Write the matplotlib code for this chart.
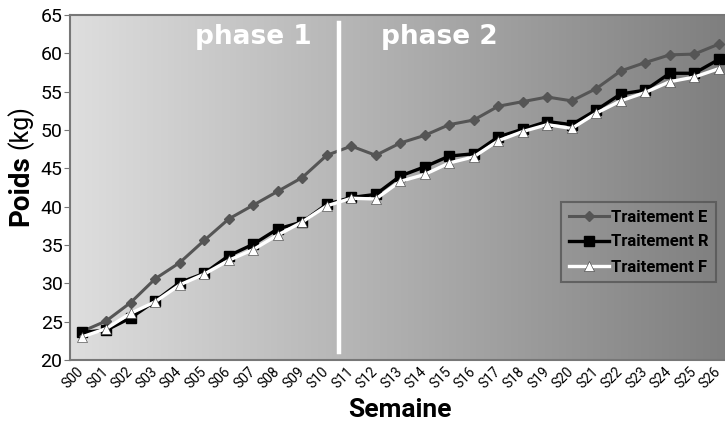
import numpy as np
import matplotlib
matplotlib.use("Agg")
import matplotlib.pyplot as plt
import matplotlib.transforms as mtransforms
from matplotlib.colors import LinearSegmentedColormap

plt.rcParams['font.family'] = ['Roboto', 'DejaVu Sans']

semaines = ["S%02d" % i for i in range(27)]
traitement_e = [23.7, 25.1, 27.5, 30.6, 32.7, 35.6, 38.4, 40.2, 42.0, 43.8, 46.7, 47.9, 46.7,
                48.3, 49.3, 50.7, 51.3, 53.1, 53.7, 54.3, 53.8, 55.4, 57.7, 58.8, 59.8, 59.9, 61.2]
traitement_r = [23.6, 23.9, 25.5, 27.7, 30.1, 31.3, 33.6, 35.1, 37.1, 38.0, 40.3, 41.2, 41.6,
                44.0, 45.2, 46.6, 46.9, 49.1, 50.1, 51.1, 50.7, 52.6, 54.7, 55.2, 57.4, 57.4, 59.2]
traitement_f = [23.0, 24.1, 26.1, 27.6, 29.8, 31.2, 33.0, 34.4, 36.3, 38.0, 40.1, 41.1, 41.0,
                43.3, 44.2, 45.7, 46.5, 48.6, 49.8, 50.7, 50.2, 52.2, 53.8, 54.9, 56.3, 56.9, 58.0]

fig = plt.figure(figsize=(7.25, 4.3), dpi=100)
# l'axe depasse a droite comme dans l'original (graphique coupe)
ax = fig.add_axes([69.5 / 725, 70 / 430, 661.5 / 725, 345 / 430])

x = np.arange(len(semaines))
ax.set_xlim(-0.5, len(semaines) - 0.5)
ax.set_ylim(20, 65)

# fond en degrade gris
cmap = LinearSegmentedColormap.from_list("fond", ["#dedede", "#7e7e7e"])
ax.imshow(np.linspace(0, 1, 256).reshape(1, -1), cmap=cmap, aspect="auto",
          extent=(-0.5, len(semaines) - 0.5, 20, 65), zorder=0)

ax.plot(x, traitement_e, color="#555555", lw=2.2, marker="D", ms=5, label="Traitement E", zorder=3)
ax.plot(x, traitement_r, color="black", lw=2.4, marker="s", ms=6.5, label="Traitement R", zorder=4)
ax.plot(x, traitement_f, color="white", lw=2.4, marker="^", ms=7.5, mec="#333333", mew=0.4,
        label="Traitement F", zorder=5)

# separation des phases
ax.plot([10.5, 10.5], [21.0, 64.0], color="white", lw=3.2, zorder=6)
ax.text(7.0, 62.1, "phase 1", color="white", fontsize=19, fontweight="bold",
        family="DejaVu Sans", ha="center", va="center", zorder=6)
ax.text(14.6, 62.1, "phase 2", color="white", fontsize=19, fontweight="bold",
        family="DejaVu Sans", ha="center", va="center", zorder=6)

ax.set_yticks(range(20, 66, 5))
ax.tick_params(axis="y", labelsize=14, length=4, color="#777777", pad=1)
ax.set_xticks(x)
ax.set_xticklabels(semaines, rotation=45, ha="right", rotation_mode="anchor", fontsize=10)
ax.tick_params(axis="x", length=0, pad=3)
decalage = mtransforms.ScaledTranslation(-5 / 100, 0, fig.dpi_scale_trans)
for lab in ax.get_xticklabels():
    lab.set_transform(lab.get_transform() + decalage)

for side in ["left", "top", "bottom", "right"]:
    ax.spines[side].set_color("#777777")
    ax.spines[side].set_linewidth(1.5)

ax.set_xlabel("Semaine", fontsize=19, fontweight="bold", labelpad=5)
fig.text(0.028, (430 - 191) / 430, "Poids", rotation=90, fontsize=20, fontweight="bold",
         ha="center", va="center")
fig.text(0.028, (430 - 127) / 430, "(kg)", rotation=90, fontsize=18,
         ha="center", va="center")

leg = ax.legend(loc="upper left", bbox_to_anchor=((561 - 69.5) / 661.5, (360 - 202) / 345),
                frameon=True, fontsize=12, handlelength=2.4, handletextpad=0.15,
                borderpad=0.45, labelspacing=0.6, borderaxespad=0, fancybox=False)
leg.get_frame().set_facecolor("none")
leg.get_frame().set_edgecolor("#555555")
leg.get_frame().set_linewidth(1.5)
for t in leg.get_texts():
    t.set_fontweight("bold")

fig.savefig("out.png", dpi=100)
